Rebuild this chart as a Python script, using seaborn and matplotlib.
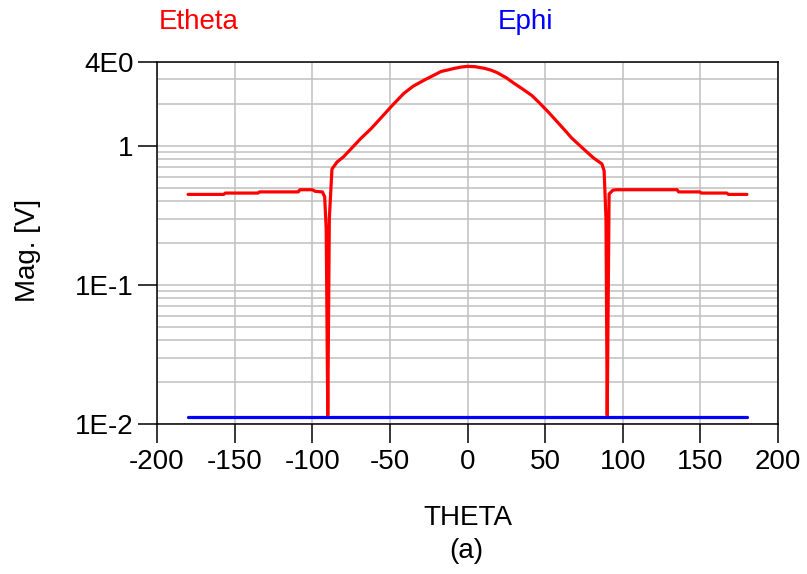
import numpy as np
import pandas as pd
import matplotlib
matplotlib.use("Agg")
import matplotlib.pyplot as plt
import matplotlib.ticker as mticker
import seaborn as sns

# ---- data ----
theta_etheta = [-180, -157, -156, -135, -134, -109, -108, -100, -98, -93.5, -92, -91, -90,
                -89, -87.3, -84, -80, -75, -69, -62, -55, -49, -41, -35, -28, -22, -17, -12, -8.5, -4, 0,
                5, 11, 15, 19, 25, 30, 35, 41.4, 46, 52, 57, 62.5, 67, 72.5, 77, 81, 86.6, 88, 89.2, 90,
                91.2, 93.7, 96, 135, 136, 149.6, 150.6, 167, 168, 180]
mag_etheta = [0.447, 0.447, 0.457, 0.457, 0.466, 0.466, 0.483, 0.483, 0.47, 0.466, 0.43, 0.25, 0.0115,
              0.30, 0.68, 0.765, 0.83, 0.95, 1.12, 1.33, 1.62, 1.92, 2.38, 2.68, 2.96, 3.2, 3.42, 3.52, 3.6, 3.68, 3.72,
              3.7, 3.6, 3.5, 3.36, 3.08, 2.81, 2.58, 2.3, 2.05, 1.75, 1.52, 1.30, 1.14, 1.0, 0.9, 0.82, 0.74, 0.66, 0.30, 0.0115,
              0.45, 0.48, 0.483, 0.483, 0.466, 0.466, 0.457, 0.457, 0.447, 0.447]
theta_ephi = [-180, 180]
mag_ephi = [0.0113, 0.0113]

x_ticks = [-200, -150, -100, -50, 0, 50, 100, 150, 200]
y_ticks = [4, 1, 0.1, 0.01]
y_tick_labels = ["4E0", "1", "1E-1", "1E-2"]
series_names = ["Etheta", "Ephi"]
series_colors = ["#ff0000", "#0000ff"]

# ---- style ----
sns.set_style("white")
plt.rcParams["font.family"] = ["Liberation Sans", "DejaVu Sans"]
plt.rcParams["font.size"] = 20
plt.rcParams["axes.unicode_minus"] = False
plt.rcParams["text.color"] = "black"
plt.rcParams["axes.labelcolor"] = "black"

fig = plt.figure(figsize=(8.07, 5.74), dpi=100)
ax = fig.add_axes([157 / 807, 1 - 424 / 574, 621 / 807, 362 / 574])

df_t = pd.DataFrame({"THETA": theta_etheta, "Mag": mag_etheta})
df_p = pd.DataFrame({"THETA": theta_ephi, "Mag": mag_ephi})
sns.lineplot(data=df_t, x="THETA", y="Mag", ax=ax, color=series_colors[0],
             linewidth=2.3, sort=False, estimator=None, zorder=3)
sns.lineplot(data=df_p, x="THETA", y="Mag", ax=ax, color=series_colors[1],
             linewidth=2.3, sort=False, estimator=None, zorder=4)

ax.set_yscale("log")
ax.set_xlim(-200, 200)
ax.set_ylim(0.01, 4)
ax.xaxis.set_major_locator(mticker.FixedLocator(x_ticks))
ax.yaxis.set_major_locator(mticker.FixedLocator(y_ticks))
ax.yaxis.set_major_formatter(mticker.FixedFormatter(y_tick_labels))
ax.yaxis.set_minor_locator(mticker.LogLocator(base=10, subs=np.arange(2, 10)))
ax.yaxis.set_minor_formatter(mticker.NullFormatter())

ax.grid(True, which="both", color="#c0c0c0", linewidth=1.1)
ax.set_axisbelow(True)

ax.tick_params(axis="both", which="major", direction="out", length=14, width=1.1,
               color="black", labelsize=20, labelcolor="black")
ax.tick_params(axis="x", which="major", pad=4, bottom=True)
ax.tick_params(axis="y", which="major", pad=3, left=True)
ax.tick_params(axis="both", which="minor", length=0)

for sp in ax.spines.values():
    sp.set_visible(True)
    sp.set_color("black")
    sp.set_linewidth(1.1)

ax.set_xlabel("THETA", fontsize=20, va="center", color="black")
ax.xaxis.set_label_coords(0.5, -(518 - 424) / 362)
ax.set_ylabel("Mag. [V]", fontsize=20, va="center", color="black")
ax.yaxis.set_label_coords(-(157 - 28) / 621, (424 - 250) / 362)

fig.text(466 / 807, 1 - 551 / 574, "(a)", fontsize=20, ha="center", va="center", color="black")
fig.text(199 / 807, 1 - 22 / 574, series_names[0], color=series_colors[0],
         fontsize=20, ha="center", va="center")
fig.text(525 / 807, 1 - 22 / 574, series_names[1], color=series_colors[1],
         fontsize=20, ha="center", va="center")

fig.savefig("out.png", dpi=100, facecolor="white")
